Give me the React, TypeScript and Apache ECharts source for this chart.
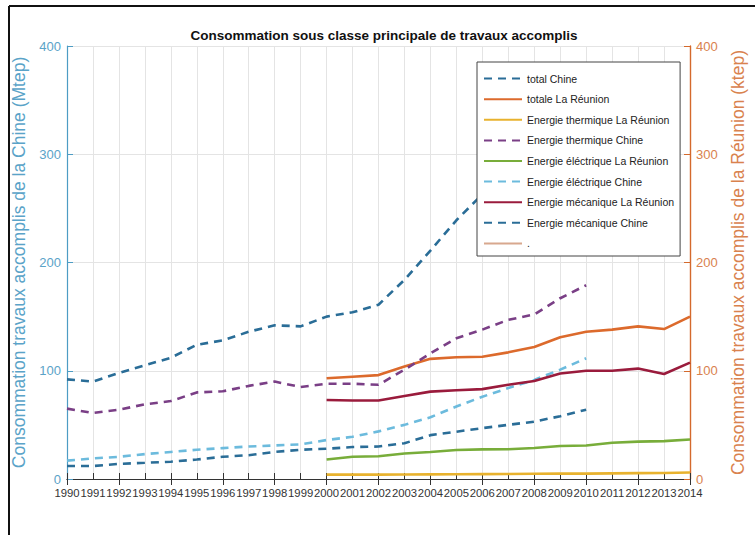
import React, { useEffect, useRef } from "react";
import * as echarts from "echarts";

const years = ["1990","1991","1992","1993","1994","1995","1996","1997","1998","1999","2000","2001","2002","2003","2004","2005","2006","2007","2008","2009","2010","2011","2012","2013","2014"];

// Chine (Mtep), 1990-2010
const totalChine = [92, 90, 98, 105, 112, 124, 128, 136, 142, 141, 150, 154, 161, 184, 211, 239, 263, 285, 305, 328, 350];
const thermiqueChine = [65, 61, 64, 69, 72, 80, 81, 86, 90, 85, 88, 88, 87, 101, 116, 130, 138, 147, 152, 167, 179];
const electriqueChine = [17, 19, 20.5, 23, 25, 27, 28.5, 30, 31, 32, 36, 39, 44, 50, 57, 67, 76, 84, 91.5, 101, 111.5];
const mecaniqueChine = [12, 12, 14, 15, 16, 18, 20.5, 22, 25, 27, 28, 29.5, 30, 33, 40.5, 43.7, 47, 50, 53, 58, 64];

// La Réunion (ktep), 2000-2014
const totaleReunion = [93, 94.5, 96, 104, 111, 112.5, 113, 117, 122, 131, 136, 138, 141, 138.5, 150];
const thermiqueReunion = [4, 4, 4, 4.2, 4.3, 4.4, 4.5, 4.6, 4.8, 5, 5, 5.2, 5.4, 5.6, 6];
const electriqueReunion = [18, 20.5, 21, 23.5, 25, 26.8, 27.4, 27.5, 28.6, 30.5, 31, 33.5, 34.5, 35, 36.5];
const mecaniqueReunion = [73, 72.5, 72.5, 76.6, 80.7, 82, 83, 87, 90.5, 97.5, 100, 100, 102, 97, 107.5];

const padEnd = (a: number[]) => [...a, ...Array(years.length - a.length).fill(null)];
const padStart = (a: number[]) => [...Array(years.length - a.length).fill(null), ...a];

const FONT = "Liberation Sans";

export default function App() {
  const ref = useRef<HTMLDivElement>(null);
  useEffect(() => {
    if (!ref.current) return;
    const chart = echarts.init(ref.current, null, { renderer: "svg", width: 755, height: 535 });
    const dash = [8, 6];
    const mk = (name: string, data: any[], color: string, dashed: boolean, axis: number) => ({
      name,
      type: "line",
      data,
      yAxisIndex: axis,
      symbol: "none",
      connectNulls: false,
      lineStyle: { color, width: 2.6, type: dashed ? dash : "solid" },
      itemStyle: { color },
    });
    chart.setOption({
      animation: false,
      backgroundColor: "#fff",
      title: {
        text: "Consommation sous classe principale de travaux accomplis",
        left: 379,
        top: 23,
        textAlign: "center",
        textStyle: { fontFamily: FONT, fontWeight: "bold", fontSize: 13.5, color: "#111" },
      },
      graphic: [
        { type: "line", shape: { x1: 9, y1: 6, x2: 755, y2: 6 }, style: { stroke: "#111", lineWidth: 2 } },
        { type: "line", shape: { x1: 9, y1: 6, x2: 9, y2: 535 }, style: { stroke: "#111", lineWidth: 2 } },
      ],
      grid: { left: 67, right: 63, top: 46, bottom: 56, containLabel: false },
      legend: {
        orient: "vertical",
        left: 477,
        top: 62,
        itemWidth: 38,
        itemHeight: 14,
        itemGap: 9.4,
        padding: [11, 6, 7, 6],
        backgroundColor: "#fff",
        borderColor: "#444",
        borderWidth: 1,
        itemStyle: { opacity: 0 },
        textStyle: { fontFamily: FONT, fontSize: 10.5, color: "#222" },
        z: 10,
      },
      xAxis: [
        {
          type: "category",
          data: years,
          boundaryGap: false,
          axisLine: { lineStyle: { color: "#555", width: 1 } },
          axisTick: { inside: true, length: 6, lineStyle: { color: "#333" } },
          axisLabel: { interval: 0, margin: 8, fontFamily: FONT, fontSize: 11.3, color: "#333" },
          splitLine: { show: true, lineStyle: { color: "#e4e4e4", width: 1 } },
        },
        {
          type: "category",
          data: years,
          position: "top",
          boundaryGap: false,
          axisLine: { show: true, lineStyle: { color: "#333", width: 1 } },
          axisTick: { inside: true, length: 6, lineStyle: { color: "#333" } },
          axisLabel: { show: false },
          splitLine: { show: false },
        },
      ],
      yAxis: [
        {
          type: "value",
          min: 0,
          max: 400,
          interval: 100,
          position: "left",
          name: "Consommation travaux accomplis de la Chine (Mtep)",
          nameLocation: "middle",
          nameRotate: 90,
          nameGap: 39,
          nameTextStyle: { fontFamily: FONT, fontSize: 17.5, color: "#5aa3c8" },
          axisLine: { show: true, lineStyle: { color: "#4d9cc4", width: 1.2 } },
          axisTick: { show: true, inside: true, length: 6, lineStyle: { color: "#4d9cc4" } },
          axisLabel: { margin: 6, fontFamily: FONT, fontSize: 13, color: "#5aa3c8" },
          splitLine: { show: true, lineStyle: { color: "#e4e4e4", width: 1 } },
        },
        {
          type: "value",
          min: 0,
          max: 400,
          interval: 100,
          position: "right",
          name: "Consommation travaux accomplis de la Réunion (ktep)",
          nameLocation: "middle",
          nameRotate: 90,
          nameGap: 39,
          nameTextStyle: { fontFamily: FONT, fontSize: 17.5, color: "#d9824e" },
          axisLine: { show: true, lineStyle: { color: "#d4692c", width: 1.4 } },
          axisTick: { show: true, inside: true, length: 6, lineStyle: { color: "#d4692c" } },
          axisLabel: { margin: 6, fontFamily: FONT, fontSize: 13, color: "#d9824e" },
          splitLine: { show: false },
        },
      ],
      series: [
        mk("total Chine", padEnd(totalChine), "#2a6d97", true, 0),
        mk("totale La Réunion", padStart(totaleReunion), "#dc6a2c", false, 1),
        mk("Energie thermique La Réunion", padStart(thermiqueReunion), "#e8b22e", false, 1),
        mk("Energie thermique Chine", padEnd(thermiqueChine), "#7a3f86", true, 0),
        mk("Energie éléctrique La Réunion", padStart(electriqueReunion), "#78ad3a", false, 1),
        mk("Energie éléctrique Chine", padEnd(electriqueChine), "#6cbbdd", true, 0),
        mk("Energie mécanique La Réunion", padStart(mecaniqueReunion), "#9a1b3c", false, 1),
        mk("Energie mécanique Chine", padEnd(mecaniqueChine), "#2a6d97", true, 0),
        mk(".", [], "#d8a88e", false, 1),
      ],
    });
    return () => chart.dispose();
  }, []);
  return <div ref={ref} style={{ position: "fixed", left: 0, top: 0, width: 755, height: 535 }} />;
}
